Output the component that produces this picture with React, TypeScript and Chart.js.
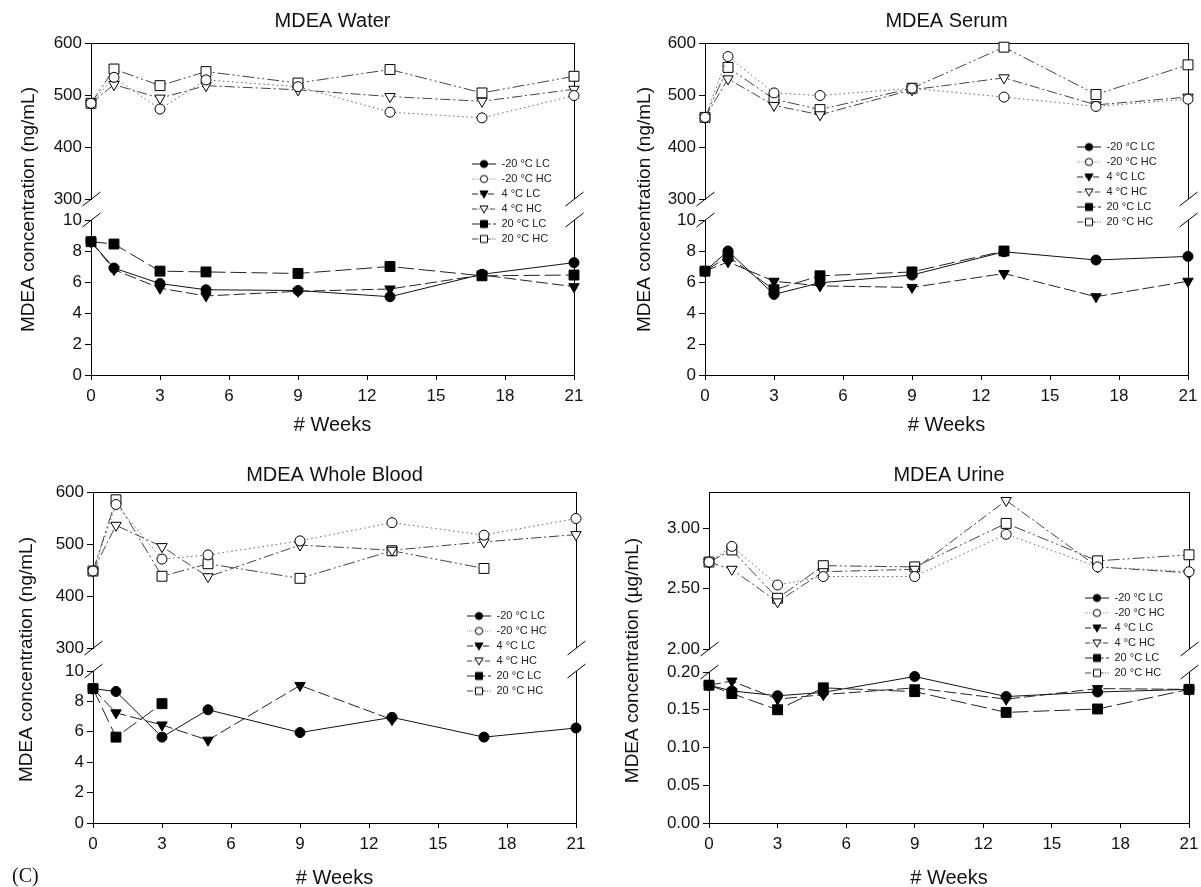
import React, { useEffect, useRef } from 'react';
import { Chart, registerables } from 'chart.js';

Chart.register(...registerables);
Chart.defaults.font.family = '"Liberation Sans", Arial, Helvetica, sans-serif';
Chart.defaults.color = '#111';

// ---------- data ----------
const weeks = [0, 1, 3, 5, 9, 13, 17, 21];
const seriesLabels = ['-20 °C LC', '-20 °C HC', '4 °C LC', '4 °C HC', '20 °C LC', '20 °C HC'];

// Water (ng/mL)
const waterLCm20 = [8.6, 6.9, 5.9, 5.5, 5.45, 5.05, 6.5, 7.25];
const waterHCm20 = [484, 534, 473, 529, 516, 467, 456, 499];
const waterLC4 = [8.6, 6.8, 5.6, 5.1, 5.4, 5.55, 6.45, 5.7];
const waterHC4 = [484, 520, 494, 518, 510, 497, 488, 511];
const waterLC20 = [8.6, 8.45, 6.7, 6.65, 6.55, 7.0, 6.4, 6.45];
const waterHC20 = [484, 550, 518, 545, 523, 549, 504, 536];

// Serum (ng/mL)
const serumLCm20 = [6.7, 8.0, 5.2, 5.95, 6.45, 7.95, 7.42, 7.65];
const serumHCm20 = [457, 574, 504, 499, 513, 496, 478, 492];
const serumLC4 = [6.7, 7.3, 6.05, 5.75, 5.65, 6.55, 5.05, 6.05];
const serumHC4 = [457, 531, 480, 462, 510, 533, 481, 496];
const serumLC20 = [6.7, 7.65, 5.5, 6.4, 6.65, 8.0, null, null];
const serumHC20 = [457, 553, 492, 472, 513, 592, 501, 558];

// Whole blood (ng/mL)
const bloodLCm20 = [8.84, 8.65, 5.65, 7.45, 5.95, 6.95, 5.65, 6.25];
const bloodHCm20 = [448, 576, 471, 479, 506, 541, 517, 549];
const bloodLC4 = [8.84, 7.25, 6.45, 5.45, 9.05, 6.8, null, null];
const bloodHC4 = [448, 536, 495, 437, 498, 488, 504, 518];
const bloodLC20 = [8.84, 5.65, 7.85, null, null, null, null, null];
const bloodHC20 = [448, 585, 438, 462, 434, 487, 453, null];

// Urine (µg/mL)
const urineLCm20 = [0.1825, 0.175, 0.1685, 0.173, 0.194, 0.1675, 0.1735, 0.177];
const urineHCm20 = [2.72, 2.85, 2.53, 2.6, 2.6, 2.95, 2.68, 2.64];
const urineLC4 = [0.1825, 0.188, 0.164, 0.17, 0.179, 0.164, 0.178, 0.177];
const urineHC4 = [2.72, 2.66, 2.39, 2.64, 2.66, 3.23, 2.68, 2.63];
const urineLC20 = [0.1825, 0.1715, 0.15, 0.179, 0.174, 0.1465, 0.151, 0.177];
const urineHC20 = [2.72, 2.82, 2.42, 2.69, 2.68, 3.04, 2.73, 2.78];

// ---------- styles ----------
type SStyle = { line: string; dash: number[]; point: string; rot: number; fill: string; radius: number };
const seriesStyles: SStyle[] = [
  { line: '#111', dash: [], point: 'circle', rot: 0, fill: '#000', radius: 5 },
  { line: '#666', dash: [1.5, 3], point: 'circle', rot: 0, fill: '#fff', radius: 5 },
  { line: '#222', dash: [12, 4], point: 'triangle', rot: 180, fill: '#000', radius: 6 },
  { line: '#444', dash: [10, 3, 2, 3], point: 'triangle', rot: 180, fill: '#fff', radius: 6 },
  { line: '#222', dash: [16, 5], point: 'rect', rot: 0, fill: '#000', radius: 7 },
  { line: '#444', dash: [12, 3, 2, 3, 2, 3], point: 'rect', rot: 0, fill: '#fff', radius: 7 },
];

type Axis = { min: number; max: number; step: number; dec: number };
type PanelCfg = {
  title: string; yTitle: string; series: (number | null)[][];
  upper: Axis; lower: Axis;
  left: number; top: number; w: number; h: number;
  yW: number; padRight: number; titlePad: [number, number]; xH: number; xTitlePadB: number;
  wU: number; wG: number; wL: number; yTitlePad: number; legDx: number; legDy: number;
};

const panels: PanelCfg[] = [
  {
    title: 'MDEA Water', yTitle: 'MDEA concentration (ng/mL)',
    series: [waterLCm20, waterHCm20, waterLC4, waterHC4, waterLC20, waterHC20],
    upper: { min: 300, max: 600, step: 100, dec: 0 }, lower: { min: 0, max: 10, step: 2, dec: 0 },
    left: 0, top: 0, w: 600, h: 443, yW: 91, padRight: 26, titlePad: [9, 10], xH: 68, xTitlePadB: 6,
    wU: 156, wG: 21, wL: 155, yTitlePad: 17, legDx: -106, legDy: 111,
  },
  {
    title: 'MDEA Serum', yTitle: 'MDEA concentration (ng/mL)',
    series: [serumLCm20, serumHCm20, serumLC4, serumHC4, serumLC20, serumHC20],
    upper: { min: 300, max: 600, step: 100, dec: 0 }, lower: { min: 0, max: 10, step: 2, dec: 0 },
    left: 600, top: 0, w: 601, h: 443, yW: 105, padRight: 13, titlePad: [9, 10], xH: 68, xTitlePadB: 6,
    wU: 156, wG: 21, wL: 155, yTitlePad: 33, legDx: -115, legDy: 94,
  },
  {
    title: 'MDEA Whole Blood', yTitle: 'MDEA concentration (ng/mL)',
    series: [bloodLCm20, bloodHCm20, bloodLC4, bloodHC4, bloodLC20, bloodHC20],
    upper: { min: 300, max: 600, step: 100, dec: 0 }, lower: { min: 0, max: 10, step: 2, dec: 0 },
    left: 0, top: 443, w: 600, h: 444, yW: 93, padRight: 24, titlePad: [20, 5], xH: 64, xTitlePadB: -3,
    wU: 156, wG: 23, wL: 152, yTitlePad: 15, legDx: -113, legDy: 114,
  },
  {
    title: 'MDEA Urine', yTitle: 'MDEA concentration (µg/mL)',
    series: [urineLCm20, urineHCm20, urineLC4, urineHC4, urineLC20, urineHC20],
    upper: { min: 2, max: 3.3, step: 0.5, dec: 2 }, lower: { min: 0, max: 0.2, step: 0.05, dec: 2 },
    left: 600, top: 443, w: 601, h: 444, yW: 109, padRight: 12, titlePad: [20, 5], xH: 64, xTitlePadB: -3,
    wU: 157, wG: 23, wL: 151, yTitlePad: 21, legDx: -108, legDy: 96,
  },
];

// ---------- helpers ----------
function makeSymbol(s: SStyle): HTMLCanvasElement {
  const c = document.createElement('canvas');
  c.width = 24; c.height = 12;
  const g = c.getContext('2d')!;
  g.strokeStyle = s.line; g.lineWidth = 1; g.setLineDash(s.dash.map((d) => d * 0.5));
  g.beginPath(); g.moveTo(0, 6.5); g.lineTo(24, 6.5); g.stroke();
  g.setLineDash([]);
  g.fillStyle = s.fill; g.strokeStyle = '#000';
  const cx = 12, cy = 6.5;
  g.beginPath();
  if (s.point === 'circle') g.arc(cx, cy, 3.6, 0, Math.PI * 2);
  else if (s.point === 'rect') g.rect(cx - 3.5, cy - 3.5, 7, 7);
  else { g.moveTo(cx - 4, cy - 3); g.lineTo(cx + 4, cy - 3); g.lineTo(cx, cy + 4); g.closePath(); }
  g.fill(); g.stroke();
  return c;
}

const frameBreak = {
  id: 'frameBreak',
  beforeDatasetsDraw(chart: any) {
    const { ctx, chartArea: ca, scales } = chart;
    const yU = scales.yU, yL = scales.yL;
    const r = Math.round(ca.right) + 0.5;
    const t = Math.round(ca.top) + 0.5;
    ctx.save();
    ctx.strokeStyle = '#000'; ctx.lineWidth = 1;
    ctx.beginPath();
    ctx.moveTo(ca.left, t); ctx.lineTo(r, t);
    ctx.moveTo(r, ca.top); ctx.lineTo(r, yU.bottom);
    ctx.moveTo(r, yL.top); ctx.lineTo(r, ca.bottom);
    for (const x of [Math.round(ca.left) + 0.5, r]) {
      for (const y of [yU.bottom, yL.top]) {
        ctx.moveTo(x - 9, y + 7); ctx.lineTo(x + 9, y - 7);
      }
    }
    ctx.stroke();
    ctx.restore();
  },
};

const legendPlace = {
  id: 'legendPlace',
  afterLayout(chart: any, _args: any, opts: any) {
    const lg = chart.legend; const ca = chart.chartArea;
    if (!lg) return;
    const left = ca.right + opts.dx; const top = ca.top + opts.dy;
    lg.left = left; lg.top = top; lg.right = left + lg.width; lg.bottom = top + lg.height + 60;
  },
};

function yAxis(ax: Axis, weight: number, stackWeight: number, yW: number) {
  return {
    type: 'linear', position: 'left', stack: 'conc', stackWeight, weight, display: true,
    min: ax.min, max: ax.max,
    ticks: { stepSize: ax.step, includeBounds: false, autoSkip: false, font: { size: 17 }, color: '#111', padding: 3,
      callback: (v: any) => Number(v).toFixed(ax.dec) },
    grid: { display: true, drawOnChartArea: false, drawTicks: true, tickLength: 6, color: '#000' },
    border: { display: true, color: '#000', width: 1 },
    afterFit: (s: any) => { s.width = yW; s.paddingTop = 0; s.paddingBottom = 0; },
  };
}

function buildConfig(p: PanelCfg): any {
  const symbols = seriesStyles.map(makeSymbol);
  const datasets = p.series.map((vals, i) => {
    const s = seriesStyles[i];
    return {
      label: seriesLabels[i],
      data: weeks.map((w, j) => ({ x: w, y: vals[j] })),
      yAxisID: i % 2 === 1 ? 'yU' : 'yL',
      borderColor: s.line, borderWidth: 1, borderDash: s.dash,
      pointStyle: s.point, pointRotation: s.rot, pointRadius: s.radius,
      pointBackgroundColor: s.fill, pointBorderColor: '#000', pointBorderWidth: 1,
      fill: false, tension: 0, spanGaps: false, clip: false,
    };
  });
  return {
    type: 'line',
    data: { datasets },
    plugins: [frameBreak, legendPlace],
    options: {
      animation: false, responsive: false, devicePixelRatio: 1,
      layout: { padding: { left: 0, right: p.padRight, top: 0, bottom: 0 } },
      plugins: {
        title: { display: true, text: p.title, fullSize: false, font: { size: 20, weight: 'normal' }, color: '#111',
          padding: { top: p.titlePad[0], bottom: p.titlePad[1] } },
        legend: {
          position: 'chartArea', align: 'start',
          labels: {
            usePointStyle: true, pointStyleWidth: 24, font: { size: 11 }, color: '#222', padding: 4,
            generateLabels: (chart: any) => chart.data.datasets.map((ds: any, i: number) => ({
              text: ds.label, pointStyle: symbols[i], fillStyle: 'transparent', strokeStyle: 'transparent',
              lineWidth: 0, hidden: false, datasetIndex: i, fontColor: '#222',
            })),
          },
        },
        legendPlace: { dx: p.legDx, dy: p.legDy },
        tooltip: { enabled: false },
      },
      scales: {
        x: {
          type: 'linear', position: 'bottom', min: 0, max: 21,
          ticks: { stepSize: 3, autoSkip: false, font: { size: 17 }, color: '#111', padding: 6 },
          grid: { display: true, drawOnChartArea: false, drawTicks: true, tickLength: 5, color: '#000' },
          border: { display: true, color: '#000', width: 1 },
          title: { display: true, text: '# Weeks', font: { size: 20 }, color: '#111', padding: { top: 0, bottom: p.xTitlePadB } },
          afterFit: (s: any) => { s.height = p.xH; s.paddingLeft = 0; s.paddingRight = 0; },
        },
        yU: yAxis(p.upper, 3, p.wU, p.yW),
        yGap: {
          type: 'linear', position: 'left', stack: 'conc', stackWeight: p.wG, weight: 2, display: true,
          min: 0, max: 1,
          ticks: { display: false },
          grid: { display: false },
          border: { display: false },
          title: { display: true, text: p.yTitle, font: { size: 19 }, color: '#111', padding: { top: p.yTitlePad, bottom: 0 } },
          afterFit: (s: any) => { s.width = p.yW; s.paddingTop = 0; s.paddingBottom = 0; },
        },
        yL: yAxis(p.lower, 1, p.wL, p.yW),
      },
    },
  };
}

function Panel({ cfg }: { cfg: PanelCfg }) {
  const ref = useRef<HTMLCanvasElement>(null);
  useEffect(() => {
    if (!ref.current) return;
    const chart = new Chart(ref.current, buildConfig(cfg));
    return () => chart.destroy();
  }, [cfg]);
  return (
    <canvas ref={ref} width={cfg.w} height={cfg.h}
      style={{ position: 'absolute', left: cfg.left, top: cfg.top, width: cfg.w, height: cfg.h }} />
  );
}

export default function App() {
  return (
    <div style={{ position: 'absolute', left: 0, top: 0, width: 1201, height: 887, background: '#fff', overflow: 'hidden' }}>
      {panels.map((p) => <Panel key={p.title} cfg={p} />)}
      <div style={{ position: 'absolute', left: 12, top: 864, fontFamily: '"Liberation Serif", "Times New Roman", serif', fontSize: 20, color: '#111' }}>(C)</div>
    </div>
  );
}
